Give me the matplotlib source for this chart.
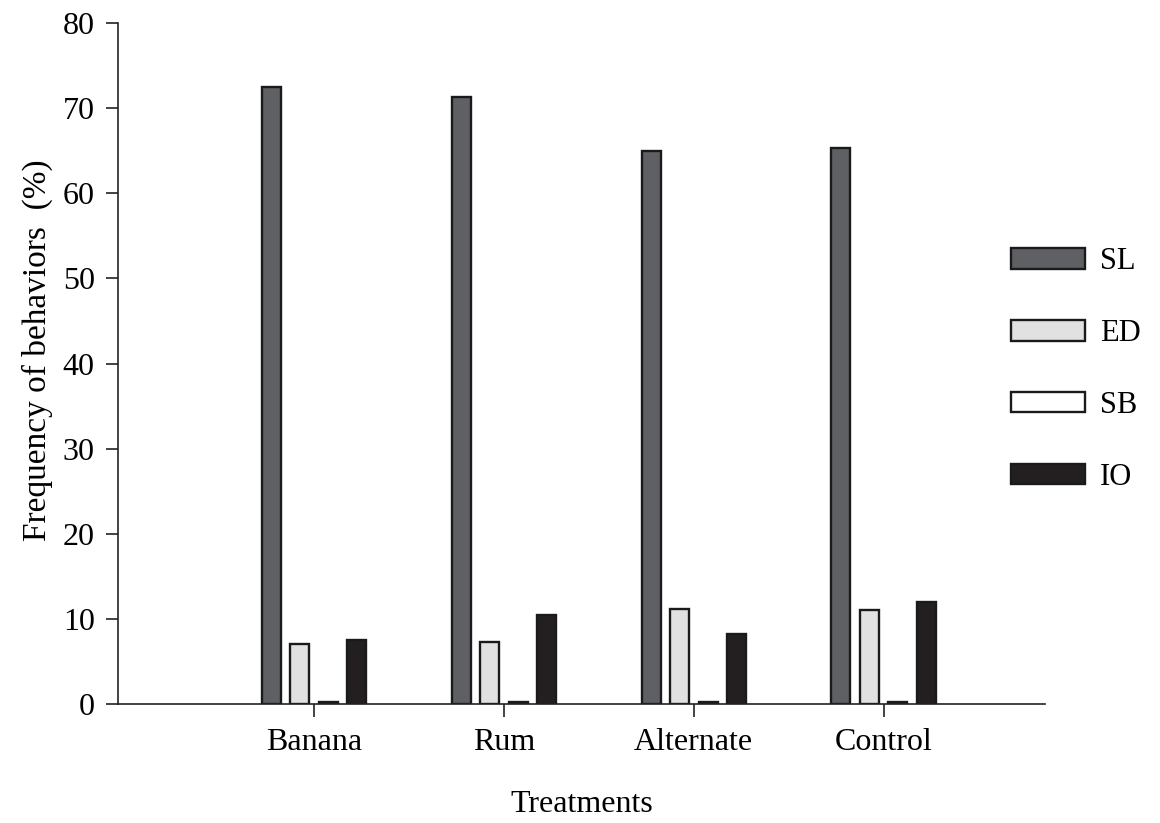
import numpy as np
import matplotlib.pyplot as plt

plt.rcParams['font.family'] = ['Liberation Serif', 'DejaVu Serif']

treatments = ['Banana', 'Rum', 'Alternate', 'Control']
behaviors = ['SL', 'ED', 'SB', 'IO']
sl = [72.5, 71.3, 65.0, 65.3]
ed = [7.0, 7.3, 11.2, 11.0]
sb = [0.25, 0.25, 0.25, 0.25]
io = [7.5, 10.5, 8.2, 12.0]

colores = ['#5f6064', '#e1e1e1', '#ffffff', '#231f20']
series = [sl, ed, sb, io]

fig = plt.figure(figsize=(11.6, 8.23), dpi=100)
ax = fig.add_axes([0.102, 0.1446, 0.799, 0.8274])

x = np.arange(len(treatments))
ancho = 0.1
paso = 0.15
for i, (vals, nombre, c) in enumerate(zip(series, behaviors, colores)):
    ax.bar(x + (i - 1.5) * paso, vals, width=ancho, color=c,
           edgecolor='#1a1a1a', linewidth=1.7, label=nombre)

ax.set_xlim(-1.03, 3.85)
ax.set_ylim(0, 80)
ax.set_yticks(np.arange(0, 81, 10))
ax.set_xticks(x)
ax.set_xticklabels(treatments)

for lado in ['top', 'right']:
    ax.spines[lado].set_visible(False)
for lado in ['left', 'bottom']:
    ax.spines[lado].set_linewidth(1.2)
    ax.spines[lado].set_color('#222222')

ax.tick_params(axis='both', labelsize=23, length=9, width=1.2, color='#222222', pad=8)
ax.set_ylabel('Frequency of behaviors  (%)', fontsize=24)
ax.yaxis.set_label_coords(-0.07, 0.52)
ax.set_xlabel('Treatments', fontsize=23, labelpad=24)

ax.legend(frameon=False, fontsize=22, loc='upper left',
          bbox_to_anchor=(0.934, 0.711), handlelength=2.4, handleheight=0.65,
          labelspacing=1.4, handletextpad=0.5)

plt.savefig('out.png', dpi=100)
